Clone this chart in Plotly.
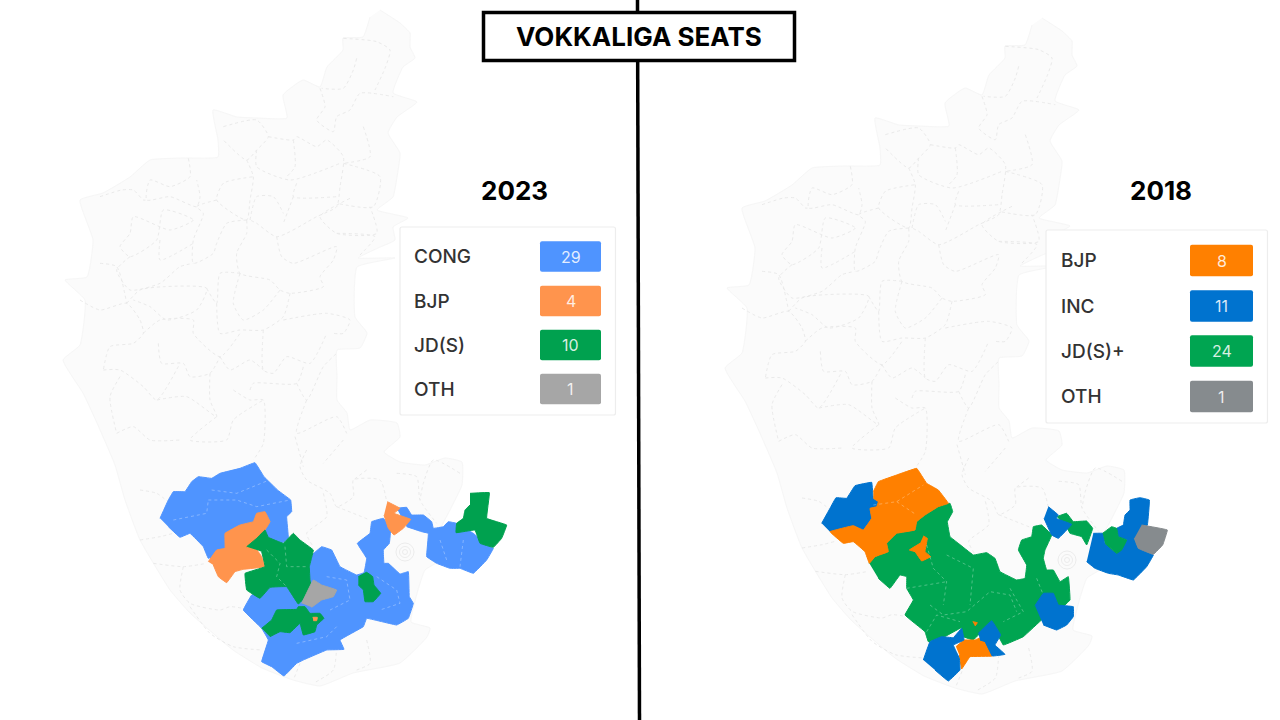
import plotly.graph_objects as go

# --- legend values ---
years = ['2023', '2018']
parties_2023 = ['CONG', 'BJP', 'JD(S)', 'OTH']
seats_2023 = [29, 4, 10, 1]
colors_2023 = ['#4F94FF', '#FF944D', '#00A14F', '#A6A6A6']
parties_2018 = ['BJP', 'INC', 'JD(S)+', 'OTH']
seats_2018 = [8, 11, 24, 1]
colors_2018 = ['#FF8000', '#0073CF', '#00A551', '#868B8E']

# --- state outline, page pixels of the 2023 map ---
state_outline = [
    (380, 10), (400, 23), (410, 33), (410, 47), (415, 58), (403, 67), (393, 93), (417, 102), (397, 117),
    (388, 133), (400, 153), (397, 177), (393, 197), (377, 210), (408, 218), (393, 227), (395, 240),
    (378, 248), (358, 258), (395, 258), (357, 267), (355, 317), (367, 333), (360, 348), (337, 350),
    (337, 377), (337, 400), (347, 413), (350, 430), (370, 420), (397, 423), (400, 437), (384, 452),
    (400, 462), (425, 465), (445, 458), (462, 462), (462, 485), (450, 510), (440, 530), (440, 560),
    (425, 570), (418, 590), (411, 622), (430, 628), (427, 637), (400, 663), (353, 673), (320, 686),
    (293, 680), (262, 668), (233, 650), (190, 613), (170, 590), (140, 540), (125, 500), (115, 465),
    (97, 423), (83, 393), (63, 360), (80, 345), (85, 300), (65, 280), (87, 277), (93, 240), (80, 200),
    (103, 193), (130, 177), (150, 160), (183, 158), (218, 157), (218, 140), (213, 110), (237, 117),
    (257, 118), (287, 118), (283, 95), (303, 80), (320, 87), (327, 67), (343, 50), (343, 38), (363, 37),
    (370, 17),
]

north_borders = [
    [(880, 115), (980, 125), (1020, 150), (1005, 205), (975, 270)],
    [(920, 175), (910, 210), (880, 265), (815, 265)],
    [(810, 265), (825, 320), (800, 360), (850, 395), (860, 350), (900, 330), (930, 280), (1030, 290)],
    [(520, 380), (620, 360), (655, 410), (620, 450), (590, 480), (520, 420)],
    [(655, 410), (730, 420), (740, 410), (800, 440), (830, 420), (880, 470), (870, 560), (860, 620), (800, 650), (680, 710), (620, 670), (600, 660)],
    [(590, 480), (610, 530), (600, 600), (590, 660), (500, 600), (520, 550), (610, 530)],
    [(620, 450), (620, 500), (720, 540), (870, 490)],
    [(730, 420), (735, 500), (710, 530)],
    [(740, 550), (730, 590), (860, 590)],
    [(730, 590), (700, 670)],
    [(600, 660), (620, 590), (670, 590), (700, 640)],
    [(940, 380), (960, 470), (880, 490)],
    [(880, 490), (990, 530), (970, 620), (860, 610)],
    [(900, 595), (810, 650), (860, 700), (980, 700), (960, 620)],
    [(680, 710), (695, 770), (730, 790), (860, 740), (850, 780), (810, 830), (820, 860), (720, 880), (690, 870), (660, 840), (570, 820), (560, 760), (590, 700), (590, 660)],
    [(860, 700), (975, 710), (925, 770)],
    [(415, 475), (420, 530), (360, 560), (300, 540), (290, 600), (360, 590), (440, 620), (450, 590), (440, 540)],
    [(150, 590), (215, 570), (250, 570), (280, 600), (290, 600)],
    [(500, 600), (440, 620), (460, 640), (430, 720), (430, 790), (490, 760), (500, 730), (530, 670), (590, 660)],
    [(340, 630), (430, 660), (360, 690), (250, 650), (240, 700), (210, 740), (240, 770), (320, 720), (340, 630)],
    [(240, 770), (200, 810), (240, 870), (330, 850), (390, 800), (430, 790)],
    [(330, 720), (330, 780), (430, 730)],
    [(150, 790), (200, 800), (230, 910)],
    [(230, 910), (270, 870), (340, 860), (470, 865), (440, 930), (350, 960), (300, 920), (250, 900)],
    [(470, 865), (500, 910), (510, 820), (570, 820)],
    [(500, 910), (510, 1000), (570, 990), (640, 990), (700, 950), (720, 880)],
    [(570, 820), (550, 910), (580, 960), (640, 930), (690, 870)],
    [(700, 960), (830, 940), (900, 960), (880, 1000), (850, 1000)],
    [(640, 990), (640, 1110), (670, 1120), (710, 1070), (780, 1090), (830, 1000)],
    [(90, 900), (150, 930), (230, 910), (270, 960), (280, 1000), (250, 1030), (180, 1040), (160, 1110)],
    [(280, 1000), (330, 960), (430, 960), (430, 1000), (510, 1070), (570, 1000)],
    [(325, 1030), (335, 1090), (400, 1090), (420, 1130), (480, 1120), (510, 1070)],
    [(160, 1110), (210, 1110), (280, 1160), (320, 1200), (390, 1090)],
    [(510, 1070), (540, 1110), (600, 1080), (640, 1110)],
    [(480, 1120), (480, 1200), (500, 1250), (410, 1190), (320, 1200)],
    [(600, 1170), (610, 1150), (740, 1150), (760, 1100)],
    [(740, 1150), (770, 1200), (820, 1100), (860, 1060)],
    [(550, 1170), (600, 1200), (640, 1200), (640, 1330), (610, 1380)],
    [(500, 1250), (420, 1320), (530, 1320), (550, 1260), (640, 1200)],
    [(770, 1200), (740, 1300), (860, 1250), (890, 1300)],
    [(200, 1300), (250, 1280), (300, 1320), (390, 1320)],
    [(210, 1130), (180, 1190), (200, 1300)],
    [(735, 1310), (760, 1400)],
    [(880, 1320), (820, 1390)],
]

south_borders = [
    [(0, 120), (50, 130), (90, 160)],
    [(0, 270), (60, 260), (100, 250)],
    [(40, 340), (130, 350), (200, 340)],
    [(130, 350), (120, 420), (150, 460), (240, 480), (270, 470), (310, 475)],
    [(150, 470), (210, 550), (280, 590), (365, 600)],
    [(500, 0), (480, 50), (500, 90), (570, 130), (590, 170), (640, 140), (640, 90), (720, 90), (740, 155)],
    [(550, 130), (560, 200), (500, 250), (520, 290)],
    [(590, 170), (640, 190), (690, 210)],
    [(680, 60), (640, 90)],
    [(770, 70), (830, 80), (840, 150), (890, 220)],
    [(960, 70), (880, 30), (850, 100), (840, 150)],
    [(680, 570), (690, 640), (650, 660)],
    [(590, 590), (580, 660), (520, 700)],
    [(480, 640), (460, 690)],
]

seats_map_2023 = [
    ('CONG', [(60, 205), (85, 150), (100, 125), (135, 125), (155, 95), (175, 80), (215, 85), (240, 70), (300, 55), (345, 38), (372, 80), (415, 122), (452, 150), (455, 185), (440, 200), (445, 265), (425, 280), (380, 260), (330, 290), (260, 300), (205, 325), (190, 290), (150, 250), (120, 262), (85, 230)]),
    ('CONG', [(510, 320), (545, 290), (575, 300), (600, 350), (650, 375), (672, 368), (680, 325), (652, 280), (690, 250), (695, 215), (730, 205), (752, 235), (748, 280), (730, 300), (732, 340), (745, 340), (780, 372), (805, 365), (808, 440), (820, 460), (805, 505), (770, 525), (680, 505), (670, 530), (600, 570), (612, 598), (560, 600), (490, 630), (470, 640), (432, 678), (395, 650), (365, 635), (385, 570), (365, 535), (310, 480), (335, 435), (400, 400), (500, 400)]),
    ('CONG', [(770, 175), (800, 172), (815, 195), (850, 195), (875, 215), (880, 235), (910, 230), (925, 215), (950, 220), (1000, 250), (1040, 285), (1060, 295), (1040, 330), (1000, 370), (960, 355), (930, 355), (890, 340), (860, 320), (865, 250), (845, 245), (800, 230)]),
    ('BJP', [(205, 335), (230, 300), (255, 295), (255, 250), (300, 225), (340, 215), (350, 190), (375, 185), (390, 215), (375, 240), (345, 290), (365, 320), (375, 350), (310, 358), (285, 365), (260, 398), (235, 380), (220, 345)]),
    ('BJP', [(742, 155), (780, 175), (762, 190), (812, 208), (790, 235), (762, 255), (745, 235), (732, 195)]),
    ('JD(S)', [(320, 290), (350, 265), (375, 240), (385, 262), (430, 280), (460, 250), (480, 270), (520, 300), (508, 350), (510, 390), (515, 420), (475, 462), (440, 410), (390, 412), (360, 445), (320, 420), (315, 370), (375, 350), (365, 305)]),
    ('JD(S)', [(990, 130), (1048, 128), (1040, 205), (1100, 225), (1085, 265), (1060, 292), (1020, 280), (1005, 240), (948, 248), (950, 220), (970, 205), (975, 180), (990, 165)]),
    ('JD(S)', [(655, 380), (680, 367), (698, 380), (702, 405), (722, 430), (700, 455), (675, 455), (670, 420), (655, 405)]),
    ('JD(S)', [(365, 535), (395, 510), (410, 480), (470, 478), (475, 470), (495, 470), (510, 490), (540, 490), (552, 505), (530, 525), (525, 545), (490, 555), (480, 520), (450, 548), (420, 545), (390, 560)]),
    ('OTH', [(485, 460), (520, 390), (545, 405), (590, 420), (580, 440), (545, 450), (515, 472)]),
    ('BJP', [(518, 502), (532, 502), (530, 512), (520, 512)]),
]

seats_map_2018 = [
    ('JD(S)+', [(178, 325), (195, 305), (235, 290), (230, 265), (260, 235), (315, 225), (320, 200), (345, 180), (385, 155), (420, 145), (428, 170), (412, 200), (420, 245), (445, 265), (490, 300), (530, 293), (555, 310), (570, 350), (620, 375), (645, 370), (650, 330), (625, 285), (635, 255), (665, 245), (670, 215), (695, 210), (725, 240), (705, 285), (700, 310), (710, 345), (730, 345), (750, 380), (775, 365), (780, 435), (765, 450), (700, 490), (640, 545), (580, 570), (555, 525), (505, 540), (490, 555), (460, 545), (455, 518), (395, 550), (355, 560), (345, 530), (285, 480), (310, 435), (290, 400), (290, 365), (270, 360), (240, 400), (205, 370)]),
    ('JD(S)+', [(740, 185), (770, 175), (790, 200), (830, 198), (848, 220), (830, 270), (815, 245), (780, 235), (770, 215)]),
    ('INC', [(35, 205), (60, 160), (78, 128), (110, 130), (135, 92), (185, 82), (190, 130), (205, 140), (200, 155), (180, 160), (185, 190), (160, 225), (130, 212), (60, 230)]),
    ('BJP', [(190, 110), (205, 80), (260, 60), (320, 40), (350, 85), (385, 105), (415, 145), (385, 155), (345, 180), (320, 200), (315, 225), (260, 235), (230, 265), (235, 290), (195, 305), (178, 325), (165, 290), (130, 260), (100, 265), (60, 230), (130, 212), (160, 225), (185, 190), (180, 160), (200, 155), (205, 140), (190, 130)]),
    ('BJP', [(340, 243), (352, 250), (345, 290), (362, 305), (335, 318), (315, 290), (298, 285), (330, 265)]),
    ('INC', [(715, 155), (745, 180), (738, 190), (785, 208), (745, 250), (725, 240), (702, 190)]),
    ('INC', [(850, 235), (880, 235), (885, 265), (920, 295), (950, 255), (925, 245), (920, 220), (940, 210), (945, 180), (960, 165), (960, 135), (990, 128), (1018, 135), (1012, 210), (975, 255), (985, 280), (1030, 300), (1010, 335), (970, 375), (925, 360), (895, 355), (855, 340), (830, 320)]),
    ('JD(S)+', [(878, 235), (905, 215), (920, 220), (925, 245), (950, 255), (935, 285), (920, 295), (885, 265)]),
    ('OTH', [(995, 210), (1072, 225), (1058, 270), (1030, 298), (985, 280), (973, 250)]),
    ('INC', [(675, 452), (700, 415), (730, 415), (745, 450), (790, 455), (790, 485), (770, 510), (740, 525), (700, 510)]),
    ('BJP', [(438, 575), (462, 555), (495, 555), (520, 545), (547, 603), (480, 605), (455, 642), (448, 600)]),
    ('INC', [(340, 615), (360, 560), (395, 545), (430, 548), (455, 520), (462, 555), (430, 570), (448, 610), (450, 645), (415, 678), (375, 645)]),
    ('INC', [(505, 535), (545, 497), (572, 540), (555, 570), (585, 598), (547, 603), (525, 560), (510, 555)]),
    ('BJP', [(488, 500), (502, 503), (495, 513)]),
]

# faint seat borders drawn over the coloured areas
seat_borders_2023 = [
    [(205, 150), (290, 150), (350, 170), (450, 150)],
    [(215, 120), (290, 130), (400, 85)],
    [(100, 210), (200, 190), (205, 150)],
    [(380, 300), (420, 340), (410, 380), (440, 410)],
    [(435, 290), (440, 350), (500, 350)],
    [(560, 380), (620, 390), (630, 450), (570, 480)],
    [(710, 380), (770, 420), (780, 460), (720, 480)],
    [(900, 270), (920, 330)],
    [(970, 270), (960, 350)],
    [(470, 580), (560, 560), (590, 530)],
]
seat_borders_2018 = [
    [(190, 150), (260, 140), (340, 90)],
    [(260, 140), (320, 180)],
    [(350, 270), (370, 340), (410, 380), (400, 450)],
    [(410, 300), (490, 340), (480, 450)],
    [(290, 400), (350, 390), (410, 380)],
    [(360, 450), (400, 480), (470, 470), (540, 410), (600, 420), (620, 470)],
    [(350, 530), (380, 480), (450, 500)],
    [(600, 400), (640, 470), (580, 500)],
    [(680, 370), (700, 420)],
]

# concentric Bengaluru wards
ward_rings = [5, 11, 18]


def from_crop(points, ox, oy):
    return [(ox + p[0] / 3, oy + p[1] / 3) for p in points]


def join_lines(lines):
    xs, ys = [], []
    for line in lines:
        xs += [p[0] for p in line] + [None]
        ys += [p[1] for p in line] + [None]
    return xs, ys


def shifted(points, dx, dy):
    return [(p[0] + dx, p[1] + dy) for p in points]


all_borders = [from_crop(b, 50, 0) for b in north_borders] + [from_crop(b, 140, 450) for b in south_borders]

fig = go.Figure()

# pale base map + dotted borders, once per year
for dx, dy in [(0, 0), (662, 8)]:
    outline = shifted(state_outline, dx, dy)
    fig.add_trace(go.Scatter(
        x=[p[0] for p in outline], y=[p[1] for p in outline],
        fill='toself', fillcolor='#FBFBFB', mode='lines',
        line=dict(color='#F6F6F6', width=1, shape='spline', smoothing=0.4),
        hoverinfo='skip',
    ))
    bx, by = join_lines([shifted(b, dx, dy) for b in all_borders])
    fig.add_trace(go.Scatter(x=bx, y=by, mode='lines',
                             line=dict(color='#EAEAEA', width=1, dash='dot', shape='spline', smoothing=0.6),
                             hoverinfo='skip'))
    fig.add_trace(go.Scatter(
        x=[405 + dx] * len(ward_rings), y=[552 + dy] * len(ward_rings), mode='markers',
        marker=dict(symbol='circle-open', size=ward_rings, color='#E6E6E6', line=dict(width=1)),
        hoverinfo='skip',
    ))


# seat shapes
def add_seats(seat_map, parties, colors, ox, oy, borders):
    for name, pts in seat_map:
        p = from_crop(pts, ox, oy)
        c = colors[parties.index(name)]
        fig.add_trace(go.Scatter(x=[a[0] for a in p], y=[a[1] for a in p], fill='toself', fillcolor=c,
                                 mode='lines', line=dict(color=c, width=1, shape='spline', smoothing=0.15),
                                 name=name, hoverinfo='name'))
    bx, by = join_lines([from_crop(b, ox, oy) for b in borders])
    fig.add_trace(go.Scatter(x=bx, y=by, mode='lines',
                             line=dict(color='rgba(255,255,255,0.3)', width=1, dash='dot'), hoverinfo='skip'))


add_seats(seats_map_2023, parties_2023, colors_2023, 140, 450, seat_borders_2023)
add_seats(seats_map_2018, parties_2018, colors_2018, 810, 455, seat_borders_2018)


def rounded(x0, y0, x1, y1, r):
    return (f'M{x0+r},{y0} L{x1-r},{y0} Q{x1},{y0} {x1},{y0+r} L{x1},{y1-r} Q{x1},{y1} {x1-r},{y1} '
            f'L{x0+r},{y1} Q{x0},{y1} {x0},{y1-r} L{x0},{y0+r} Q{x0},{y0} {x0+r},{y0} Z')


shapes = []
annotations = []


def add_legend(box, label_x, badge_x, centers, badge_h, parties, seats, colors):
    shapes.append(dict(type='path', path=rounded(*box, 2), fillcolor='white', line=dict(color='#EDEDED', width=1.2)))
    for yc, party, n, col in zip(centers, parties, seats, colors):
        shapes.append(dict(type='path', path=rounded(badge_x[0], yc - badge_h / 2, badge_x[1], yc + badge_h / 2, 2),
                           fillcolor=col, line=dict(width=0)))
        annotations.append(dict(x=label_x, y=yc, text=party, xanchor='left', yanchor='middle', showarrow=False,
                                font=dict(family='Inter', size=19, color='#333333', weight=500)))
        annotations.append(dict(x=sum(badge_x) / 2, y=yc, text=str(n), xanchor='center', yanchor='middle', showarrow=False,
                                font=dict(family='Inter', size=16, color='rgba(255,255,255,0.85)')))


add_legend((400, 227, 615.5, 415), 412, (540, 601), [256.5, 301, 345, 389], 30.5, parties_2023, seats_2023, colors_2023)
add_legend((1046, 230, 1267.5, 423), 1059, (1190, 1253), [260.5, 306, 351, 396.5], 31.5, parties_2018, seats_2018, colors_2018)

# centre divider and title box
shapes.append(dict(type='line', x0=637.5, y0=0, x1=639.5, y1=720, line=dict(color='black', width=3.5)))
shapes.append(dict(type='rect', x0=483.5, y0=12.5, x1=794.5, y1=60.5, fillcolor='white', line=dict(color='black', width=3.5)))

annotations.append(dict(x=638.5, y=36, text='<b>VOKKALIGA SEATS</b>', showarrow=False, xanchor='center', yanchor='middle',
                        font=dict(family='Inter', size=26, color='black')))
for cx, year in zip([514, 1161], years):
    annotations.append(dict(x=cx, y=190, text=f'<b>{year}</b>', showarrow=False, xanchor='center', yanchor='middle',
                            font=dict(family='Inter', size=26, color='black')))

fig.update_layout(
    width=1280, height=720, margin=dict(l=0, r=0, t=0, b=0),
    paper_bgcolor='white', plot_bgcolor='white', showlegend=False,
    xaxis=dict(range=[0, 1280], visible=False, fixedrange=True),
    yaxis=dict(range=[720, 0], visible=False, fixedrange=True),
    shapes=shapes, annotations=annotations,
)

# page body has an 8px margin by default
fig.write_html('out.html', config={'displayModeBar': False},
               post_script="document.body.style.margin='0';document.documentElement.style.overflow='hidden';window.dispatchEvent(new Event('resize'));")
